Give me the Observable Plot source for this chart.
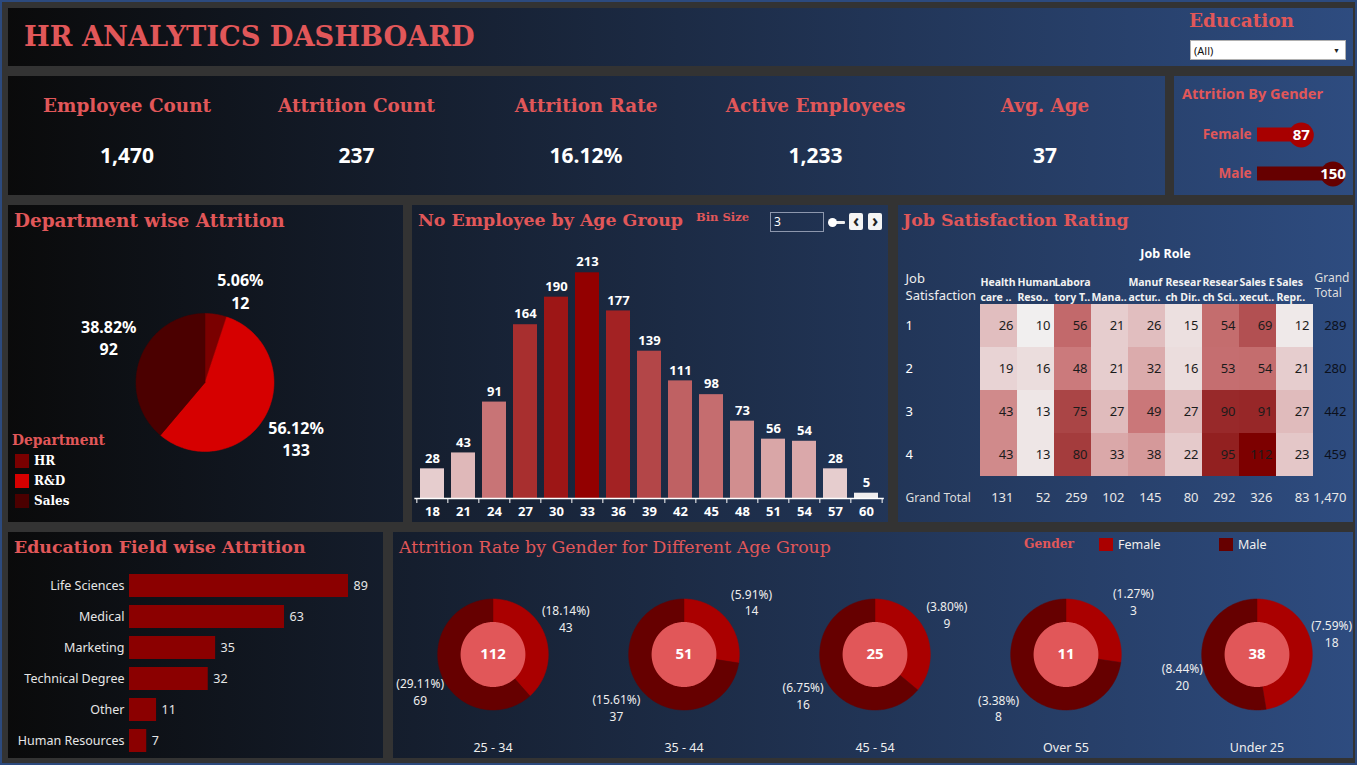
<!DOCTYPE html>
<html>
<head>
<meta charset="utf-8">
<script src="https://cdn.jsdelivr.net/npm/d3@7"></script>
<script src="https://cdn.jsdelivr.net/npm/@observablehq/plot@0.6"></script>
<style>
html,body{margin:0;padding:0;background:#333;}
#dash{position:relative;width:1357px;height:765px;overflow:hidden;background:#333;}
.panel{position:absolute;background-image:linear-gradient(90deg,#0a0a0a,#2e4c80);background-size:1357px 765px;}
.t{position:absolute;white-space:nowrap;line-height:1;}
.serif{font-family:"DejaVu Serif",serif;font-weight:bold;color:#e15759;}
.sans{font-family:"Noto Sans",sans-serif;}
.border{position:absolute;left:0;top:0;width:1357px;height:765px;box-sizing:border-box;border:2px solid #2c4a7e;pointer-events:none;}
</style>
</head>
<body>
<div id="dash"></div>
<script>
// ---------------- data ----------------
const kpiLabels = ["Employee Count", "Attrition Count", "Attrition Rate", "Active Employees", "Avg. Age"];
const kpiValues = ["1,470", "237", "16.12%", "1,233", "37"];

const genders = ["Female", "Male"];
const genderAttrition = [87, 150];
const genderColors = ["#a80000", "#660000"];

const departments = ["HR", "R&D", "Sales"];
const deptAttrition = [12, 133, 92];
const deptColors = ["#7a0000", "#d60000", "#4b0000"];

const ageBins = [18, 21, 24, 27, 30, 33, 36, 39, 42, 45, 48, 51, 54, 57, 60];
const ageCounts = [28, 43, 91, 164, 190, 213, 177, 139, 111, 98, 73, 56, 54, 28, 5];

const jobRoles = ["Healthcare Representative", "Human Resources", "Laboratory Technician", "Manager",
  "Manufacturing Director", "Research Director", "Research Scientist", "Sales Executive", "Sales Representative"];
const jobRoleHeaders = ["Health\ncare ..", "Human\nReso..", "Labora\ntory T..", "\nMana..", "Manuf\nactur..",
  "Resear\nch Dir..", "Resear\nch Sci..", "Sales E\nxecut..", "Sales\nRepr.."];
const satLevels = ["1", "2", "3", "4"];
const satLevel1 = [26, 10, 56, 21, 26, 15, 54, 69, 12];
const satLevel2 = [19, 16, 48, 21, 32, 16, 53, 54, 21];
const satLevel3 = [43, 13, 75, 27, 49, 27, 90, 91, 27];
const satLevel4 = [43, 13, 80, 33, 38, 22, 95, 112, 23];

const eduFields = ["Life Sciences", "Medical", "Marketing", "Technical Degree", "Other", "Human Resources"];
const eduAttrition = [89, 63, 35, 32, 11, 7];

const ageGroups = ["25 - 34", "35 - 44", "45 - 54", "Over 55", "Under 25"];
const femaleAttrition = [43, 14, 9, 3, 18];
const maleAttrition = [69, 37, 16, 8, 20];
const totalAttrition = 237;

// ---------------- helpers ----------------
const W = document.getElementById("dash");
function panel(x, y, w, h) {
  const d = document.createElement("div");
  d.className = "panel";
  Object.assign(d.style, {left: x + "px", top: y + "px", width: w + "px", height: h + "px", backgroundPosition: `${-x}px ${-y}px`});
  W.appendChild(d);
  return d;
}
function label(text, x, y, cls, style, center) {
  const s = document.createElement("div");
  s.className = "t " + (cls || "");
  s.textContent = text;
  Object.assign(s.style, style || {});
  s.style.left = x + "px";
  s.style.top = y + "px";
  s.style.transform = center ? "translate(-50%,-50%)" : "translateY(-50%)";
  W.appendChild(s);
  return s;
}
function fit(el, target) {
  const w = el.getBoundingClientRect().width;
  const fs = parseFloat(getComputedStyle(el).fontSize);
  const nf = fs * target / w;
  el.style.fontSize = nf + "px";
  return nf;
}
function box(x, y, w, h, style) {
  const d = document.createElement("div");
  Object.assign(d.style, {position: "absolute", left: x + "px", top: y + "px", width: w + "px", height: h + "px", boxSizing: "border-box"}, style || {});
  W.appendChild(d);
  return d;
}
function place(svg, x, y) {
  svg.style.position = "absolute";
  svg.style.left = x + "px";
  svg.style.top = y + "px";
  svg.style.overflow = "visible";
  W.appendChild(svg);
}
// polygon of a pie sector, angles clockwise from 12 o'clock, y up
function sector(a0, a1, r) {
  const n = Math.max(2, Math.ceil(Math.abs(a1 - a0) / (Math.PI / 120)));
  const pts = [[0, 0]];
  for (let i = 0; i <= n; i++) {
    const a = a0 + (a1 - a0) * i / n;
    pts.push([r * Math.sin(a), r * Math.cos(a)]);
  }
  pts.push([0, 0]);
  return pts;
}
// label block centre outside a slice: pushed out along the mid-angle plus half the label box (units of radius)
function outside(mid, ax, bx, ay, by, unit) {
  const s = Math.sin(mid), c = Math.cos(mid);
  return [Math.sign(s) * (ax + bx * Math.abs(s)) / unit, Math.sign(c) * (ay + by * Math.abs(c)) / unit];
}
const baseStyle = {background: "transparent", fontFamily: "'Noto Sans',sans-serif", color: "white"};

// ---------------- panels ----------------
panel(8, 8, 1345, 58);
panel(8, 76, 1157, 119);
panel(1174, 76, 179, 119);
panel(8, 205, 395, 317);
panel(412, 205, 476, 317);
panel(898, 205, 455, 317);
panel(8, 532, 375, 226);
panel(393, 532, 960, 226);

// ---------------- header ----------------
fit(label("HR ANALYTICS DASHBOARD", 24, 37, "serif", {fontSize: "28px"}), 451);
fit(label("Education", 1189, 21, "serif", {fontSize: "18px"}), 105);
box(1190, 40, 156, 20, {background: "#fff", border: "1px solid #b0b0b0"});
label("(All)", 1194, 50, "sans", {fontSize: "11px", color: "#111"});
label("\u25BC", 1333, 50, "sans", {fontSize: "7px", color: "#222"});

// ---------------- KPIs ----------------
const kpiEls = kpiLabels.map((t, i) => label(t, 127 + 229.5 * i, 106, "serif", {fontSize: "18px"}, true));
const kfs = fit(kpiEls[0], 168);
kpiEls.forEach(e => e.style.fontSize = kfs + "px");
kpiValues.forEach((t, i) => label(t, 127 + 229.5 * i, 155, "sans", {fontSize: "21px", fontWeight: "bold", color: "#fff"}, true));

// ---------------- Attrition by gender ----------------
label("Attrition By Gender", 1182, 93, "sans", {fontSize: "14.5px", fontWeight: "bold", color: "#e15759"});
const genderData = genders.map((g, i) => ({gender: g, value: genderAttrition[i]}));
place(Plot.plot({
  width: 179, height: 119, marginLeft: 83, marginRight: 20.5, marginTop: 39, marginBottom: 2,
  x: {domain: [0, 150], axis: null},
  y: {domain: genders, padding: 0, axis: null},
  color: {domain: genders, range: genderColors},
  style: baseStyle,
  marks: [
    Plot.barX(genderData, {x: "value", y: "gender", fill: "gender", insetTop: 12.5, insetBottom: 12.5}),
    Plot.dot(genderData, {x: "value", y: "gender", fill: "gender", r: 12.5}),
    Plot.text(genderData, {x: "value", y: "gender", text: d => String(d.value), fill: "white", fontSize: 15, fontWeight: "bold"}),
    Plot.text(genderData, {y: "gender", text: "gender", frameAnchor: "left", textAnchor: "end", dx: -6, fill: "#e15759", fontSize: 13.5, fontWeight: "bold"})
  ]
}), 1174, 76);

// ---------------- Department pie ----------------
fit(label("Department wise Attrition", 14, 221, "serif", {fontSize: "18px"}), 271);
const deptData = departments.map((d, i) => ({dept: d, value: deptAttrition[i]}));
const deptTotal = d3.sum(deptAttrition);
const deptArcs = d3.pie().sort(null).value(d => d.value)(deptData);
const deptSlices = deptArcs.flatMap(a => sector(a.startAngle, a.endAngle, 1).map(([x, y]) => ({dept: a.data.dept, x, y})));
const pieR = 69;
const deptLabels = deptArcs.map(a => {
  const [x, y] = outside((a.startAngle + a.endAngle) / 2, 23, 78, 20, 73, pieR);
  return {x, y, text: `${(100 * a.data.value / deptTotal).toFixed(2)}%\n${a.data.value}`};
});
place(Plot.plot({
  width: 395, height: 317, margin: 0,
  x: {domain: [-196.5 / pieR, 198.5 / pieR], axis: null},
  y: {domain: [-140 / pieR, 177 / pieR], axis: null},
  color: {domain: departments, range: deptColors},
  style: baseStyle,
  marks: [
    Plot.line(deptSlices, {x: "x", y: "y", z: "dept", fill: "dept", stroke: "dept", strokeWidth: 0.5}),
    Plot.text(deptLabels, {x: "x", y: "y", text: "text", fill: "white", fontSize: 16, fontWeight: "bold", lineHeight: 1.38})
  ]
}), 8, 205);
fit(label("Department", 12, 441, "serif", {fontSize: "14px"}), 93);
departments.forEach((d, i) => {
  box(15, 454 + 20 * i, 14, 14, {background: deptColors[i]});
  label(d, 34, 461 + 20 * i, "serif", {fontSize: "12px", color: "#fff"});
});

// ---------------- Age histogram ----------------
fit(label("No Employee by Age Group", 418, 221, "serif", {fontSize: "18px"}), 265);
fit(label("Bin Size", 696, 218, "serif", {fontSize: "12px"}), 53);
box(770, 212, 54, 20, {border: "1px solid #8d97ad"});
label("3", 774, 222, "sans", {fontSize: "12px", color: "#fff"});
box(831, 221, 14, 3, {background: "#eee", borderRadius: "1px"});
box(828, 218, 9, 9, {background: "#fff", borderRadius: "50%"});
box(849, 213, 14, 17, {background: "#f4f4f4", borderRadius: "2px"});
box(868, 213, 14, 17, {background: "#f4f4f4", borderRadius: "2px"});
label("\u2039", 856, 220, "sans", {fontSize: "17px", color: "#222", fontWeight: "bold"}, true);
label("\u203A", 875, 220, "sans", {fontSize: "17px", color: "#222", fontWeight: "bold"}, true);
const ageData = ageBins.map((b, i) => ({bin: b, count: ageCounts[i]}));
const histW = 476, histML = 2.35, histMR = 4.15;
const halfStep = (histW - histML - histMR) / ageBins.length / 2;
place(Plot.plot({
  width: histW, height: 317, marginLeft: histML, marginRight: histMR, marginTop: 67.3, marginBottom: 24,
  x: {domain: ageBins, paddingInner: 0.23, paddingOuter: 0.115, axis: null},
  y: {domain: [0, 213], axis: null},
  color: {type: "linear", domain: [5, 91, 213], range: ["#f1eeee", "#c87476", "#930000"]},
  style: baseStyle,
  marks: [
    Plot.barY(ageData, {x: "bin", y: "count", fill: "count"}),
    Plot.ruleY([0], {stroke: "#fff", strokeWidth: 1.5}),
    Plot.ruleX(ageData, {x: "bin", y1: 0, y2: 0, insetBottom: -5, dx: -halfStep, stroke: "#fff", strokeWidth: 1}),
    Plot.ruleX(ageData.slice(-1), {x: "bin", y1: 0, y2: 0, insetBottom: -5, dx: halfStep, stroke: "#fff", strokeWidth: 1}),
    Plot.text(ageData, {x: "bin", y: "count", text: d => String(d.count), dy: -10.5, fill: "#fff", fontSize: 13, fontWeight: "bold"}),
    Plot.text(ageData, {x: "bin", text: d => String(d.bin), frameAnchor: "bottom", lineAnchor: "middle", dy: 13, fill: "#fff", fontSize: 13, fontWeight: "bold"})
  ]
}), 412, 205);

// ---------------- Job satisfaction heatmap ----------------
fit(label("Job Satisfaction Rating", 903, 221, "serif", {fontSize: "18px"}), 226);
const satRows = [satLevel1, satLevel2, satLevel3, satLevel4];
const cells = satLevels.flatMap((s, i) => jobRoles.map((r, j) => ({sat: s, role: r, count: satRows[i][j]})));
const rowTotals = satLevels.map((s, i) => ({sat: s, role: "Grand Total", count: d3.sum(satRows[i])}));
const colTotals = jobRoles.map((r, j) => ({sat: "Grand Total", role: r, count: d3.sum(satRows, row => row[j])}));
const grandTotal = [{sat: "Grand Total", role: "Grand Total", count: d3.sum(rowTotals, d => d.count)}];
const fmt = d3.format(",");
place(Plot.plot({
  width: 455, height: 317, marginLeft: 81, marginRight: 2, marginTop: 98, marginBottom: 1.5,
  x: {domain: [...jobRoles, "Grand Total"], padding: 0, axis: null},
  y: {domain: [...satLevels, "Grand Total"], padding: 0, axis: null},
  color: {type: "linear", domain: [10, 50, 112], range: ["#f1efef", "#c97476", "#7d0000"]},
  style: baseStyle,
  marks: [
    Plot.cell(cells, {x: "role", y: "sat", fill: "count"}),
    Plot.text(cells, {x: "role", y: "sat", text: d => fmt(d.count), textAnchor: "end", dx: 14.5, fill: "#1b1b1b", fontSize: 13}),
    Plot.text(rowTotals, {x: "role", y: "sat", text: d => fmt(d.count), textAnchor: "end", dx: 14.5, fill: "#0c111c", fontSize: 13}),
    Plot.text([...colTotals, ...grandTotal], {x: "role", y: "sat", text: d => fmt(d.count), textAnchor: "end", dx: 14.5, fill: "#e8e8e8", fontSize: 13}),
    Plot.text(satLevels, {y: d => d, text: d => d, frameAnchor: "left", textAnchor: "start", dx: -74, fill: "#fff", fontSize: 13}),
    Plot.text(["Grand Total"], {y: d => d, text: d => d, frameAnchor: "left", textAnchor: "start", dx: -74, fill: "#ddd", fontSize: 12}),
    Plot.text(jobRoles, {x: d => d, text: (d, i) => jobRoleHeaders[i], frameAnchor: "top", lineAnchor: "middle", textAnchor: "start", dx: -18.6, dy: -14.5, lineHeight: 1.36, fill: "#f2f2f2", fontSize: 10.5, fontWeight: "bold"}),
    Plot.text(["Grand Total"], {x: d => d, text: () => "Grand\nTotal", frameAnchor: "top", lineAnchor: "middle", textAnchor: "start", dx: -17.5, dy: -18.5, lineHeight: 1.2, fill: "#ddd", fontSize: 12}),
    Plot.text(["Job\nSatisfaction"], {text: d => d, frameAnchor: "top-left", lineAnchor: "middle", textAnchor: "start", dx: -74, dy: -17.5, lineHeight: 1.31, fill: "#eee", fontSize: 13}),
    Plot.text(["Job Role"], {text: d => d, frameAnchor: "top", lineAnchor: "middle", dy: -50, fill: "#fff", fontSize: 12.5, fontWeight: "bold"})
  ]
}), 898, 205);

// ---------------- Education field bars ----------------
fit(label("Education Field wise Attrition", 14, 548, "serif", {fontSize: "18px"}), 292);
const eduData = eduFields.map((f, i) => ({field: f, value: eduAttrition[i]}));
place(Plot.plot({
  width: 375, height: 226, marginLeft: 121, marginRight: 35, marginTop: 37.5, marginBottom: 2.5,
  x: {domain: [0, 89], axis: null},
  y: {domain: eduFields, paddingInner: 0.26, paddingOuter: 0.13, axis: null},
  style: baseStyle,
  marks: [
    Plot.barX(eduData, {x: "value", y: "field", fill: "#8b0000"}),
    Plot.text(eduData, {y: "field", text: "field", frameAnchor: "left", textAnchor: "end", dx: -5, fill: "#e6e6e6", fontSize: 12.5}),
    Plot.text(eduData, {x: "value", y: "field", text: d => String(d.value), textAnchor: "start", dx: 5, fill: "#e6e6e6", fontSize: 12.5})
  ]
}), 8, 532);

// ---------------- Donuts ----------------
fit(label("Attrition Rate by Gender for Different Age Group", 399, 548, "serif", {fontSize: "18px", fontWeight: "normal"}), 432);
fit(label("Gender", 1024, 544, "serif", {fontSize: "14px"}), 50);
box(1099, 538, 14, 13, {background: "#aa0000"});
label("Female", 1118, 545, "sans", {fontSize: "12.5px", color: "#eee"});
box(1219, 538, 14, 13, {background: "#660000"});
label("Male", 1238, 545, "sans", {fontSize: "12.5px", color: "#eee"});

const donutR = 55.5, holeR = 32.5 / donutR;
const donutData = ageGroups.map((g, i) => ({group: g, female: femaleAttrition[i], male: maleAttrition[i], total: femaleAttrition[i] + maleAttrition[i]}));
const ringRows = donutData.flatMap(d => {
  const fa = 2 * Math.PI * d.female / d.total;
  return [
    ...sector(0, fa, 1).map(([x, y]) => ({group: d.group, gender: "Female", key: d.group + "F", x, y})),
    ...sector(fa, 2 * Math.PI, 1).map(([x, y]) => ({group: d.group, gender: "Male", key: d.group + "M", x, y}))
  ];
});
const holeRows = donutData.flatMap(d => sector(0, 2 * Math.PI, holeR).map(([x, y]) => ({group: d.group, key: d.group + "H", x, y})));
const donutLabels = donutData.flatMap(d => {
  const fa = 2 * Math.PI * d.female / d.total;
  const pf = outside(fa / 2, 45, 30, 17, 55, donutR);
  const pm = outside((fa + 2 * Math.PI) / 2, 45, 30, 17, 55, donutR);
  const pct = v => (100 * v / totalAttrition).toFixed(2) + "%";
  return [
    {group: d.group, x: pf[0], y: pf[1], text: `(${pct(d.female)})\n${d.female}`},
    {group: d.group, x: pm[0], y: pm[1], text: `(${pct(d.male)})\n${d.male}`}
  ];
});
const halfW = 191.6 / 2 / donutR;
place(Plot.plot({
  width: 960, height: 226, marginLeft: 2, marginRight: 0, marginTop: 0, marginBottom: 0,
  fx: {domain: ageGroups, padding: 0, axis: null},
  x: {domain: [-halfW, halfW], axis: null},
  y: {domain: [-104 / donutR, 122 / donutR], axis: null},
  color: {domain: genders, range: ["#aa0000", "#660000"]},
  style: baseStyle,
  marks: [
    Plot.line(ringRows, {fx: "group", x: "x", y: "y", z: "key", fill: "gender", stroke: "gender", strokeWidth: 0.5}),
    Plot.line(holeRows, {fx: "group", x: "x", y: "y", z: "key", fill: "#e15759", stroke: "none"}),
    Plot.text(donutData, {fx: "group", x: () => 0, y: () => 0, text: d => String(d.total), fill: "#fff", fontSize: 15, fontWeight: "bold"}),
    Plot.text(donutLabels, {fx: "group", x: "x", y: "y", text: "text", fill: "#eee", fontSize: 12, lineHeight: 1.4}),
    Plot.text(donutData, {fx: "group", x: () => 0, y: () => -93 / donutR, text: "group", fill: "#eee", fontSize: 12.5})
  ]
}), 393, 532);

// outer border on top
const b = document.createElement("div"); b.className = "border"; W.appendChild(b);
</script>
</body>
</html>
